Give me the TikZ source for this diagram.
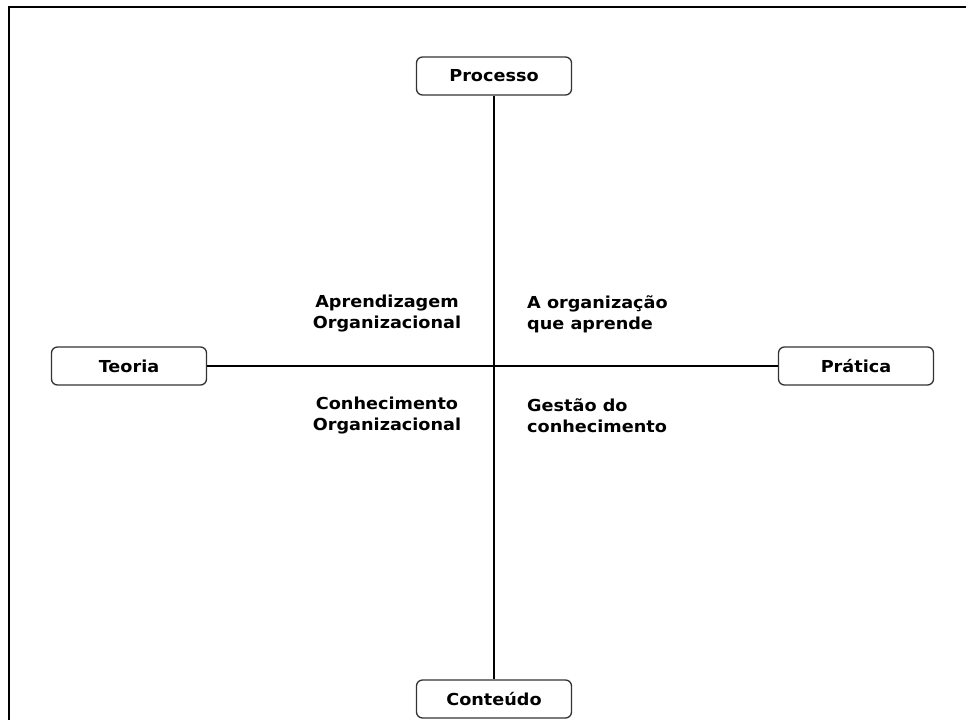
\documentclass[tikz,border=0pt]{standalone}
\usepackage{fontspec}
\newfontfamily\lbl{DejaVu Sans}[FakeStretch=1.07]
\begin{document}
\begin{tikzpicture}[x=1pt,y=-1pt,
  axisbox/.style={draw=black!80,line width=1.3pt,rounded corners=6pt,fill=white,
    minimum width=155pt,minimum height=38pt,inner sep=0pt,
    font=\lbl\bfseries\fontsize{16.5}{20}\selectfont},
  quad/.style={font=\lbl\bfseries\fontsize{16.5}{21}\selectfont,inner sep=0pt},
  axis/.style={line width=1.5pt,black}]
  \useasboundingbox (0,0) rectangle (966,720);
  % frame on the top and left
  \draw[line width=2pt,black] (966,7) -- (9,7) -- (9,720);
  % end boxes
  \node[axisbox] (proc) at (494,76) {Processo};
  \node[axisbox] (teo) at (129,366) {Teoria};
  \node[axisbox] (prat) at (856,366) {Prática};
  \node[axisbox] (cont) at (494,699) {Conteúdo};
  % axes
  \draw[axis] (proc.south) -- (cont.north);
  \draw[axis] (teo.east) -- (prat.west);
  % quadrant labels
  \node[quad,align=center] (q1) at (387,314) {Aprendizagem\\Organizacional};
  \node[quad,align=left,anchor=west] (q2) at (527,314) {A organização\\que aprende};
  \node[quad,align=center] (q3) at (387,416) {Conhecimento\\Organizacional};
  \node[quad,align=left,anchor=west] (q4) at (527,416) {Gestão do\\conhecimento};
\end{tikzpicture}
\end{document}
